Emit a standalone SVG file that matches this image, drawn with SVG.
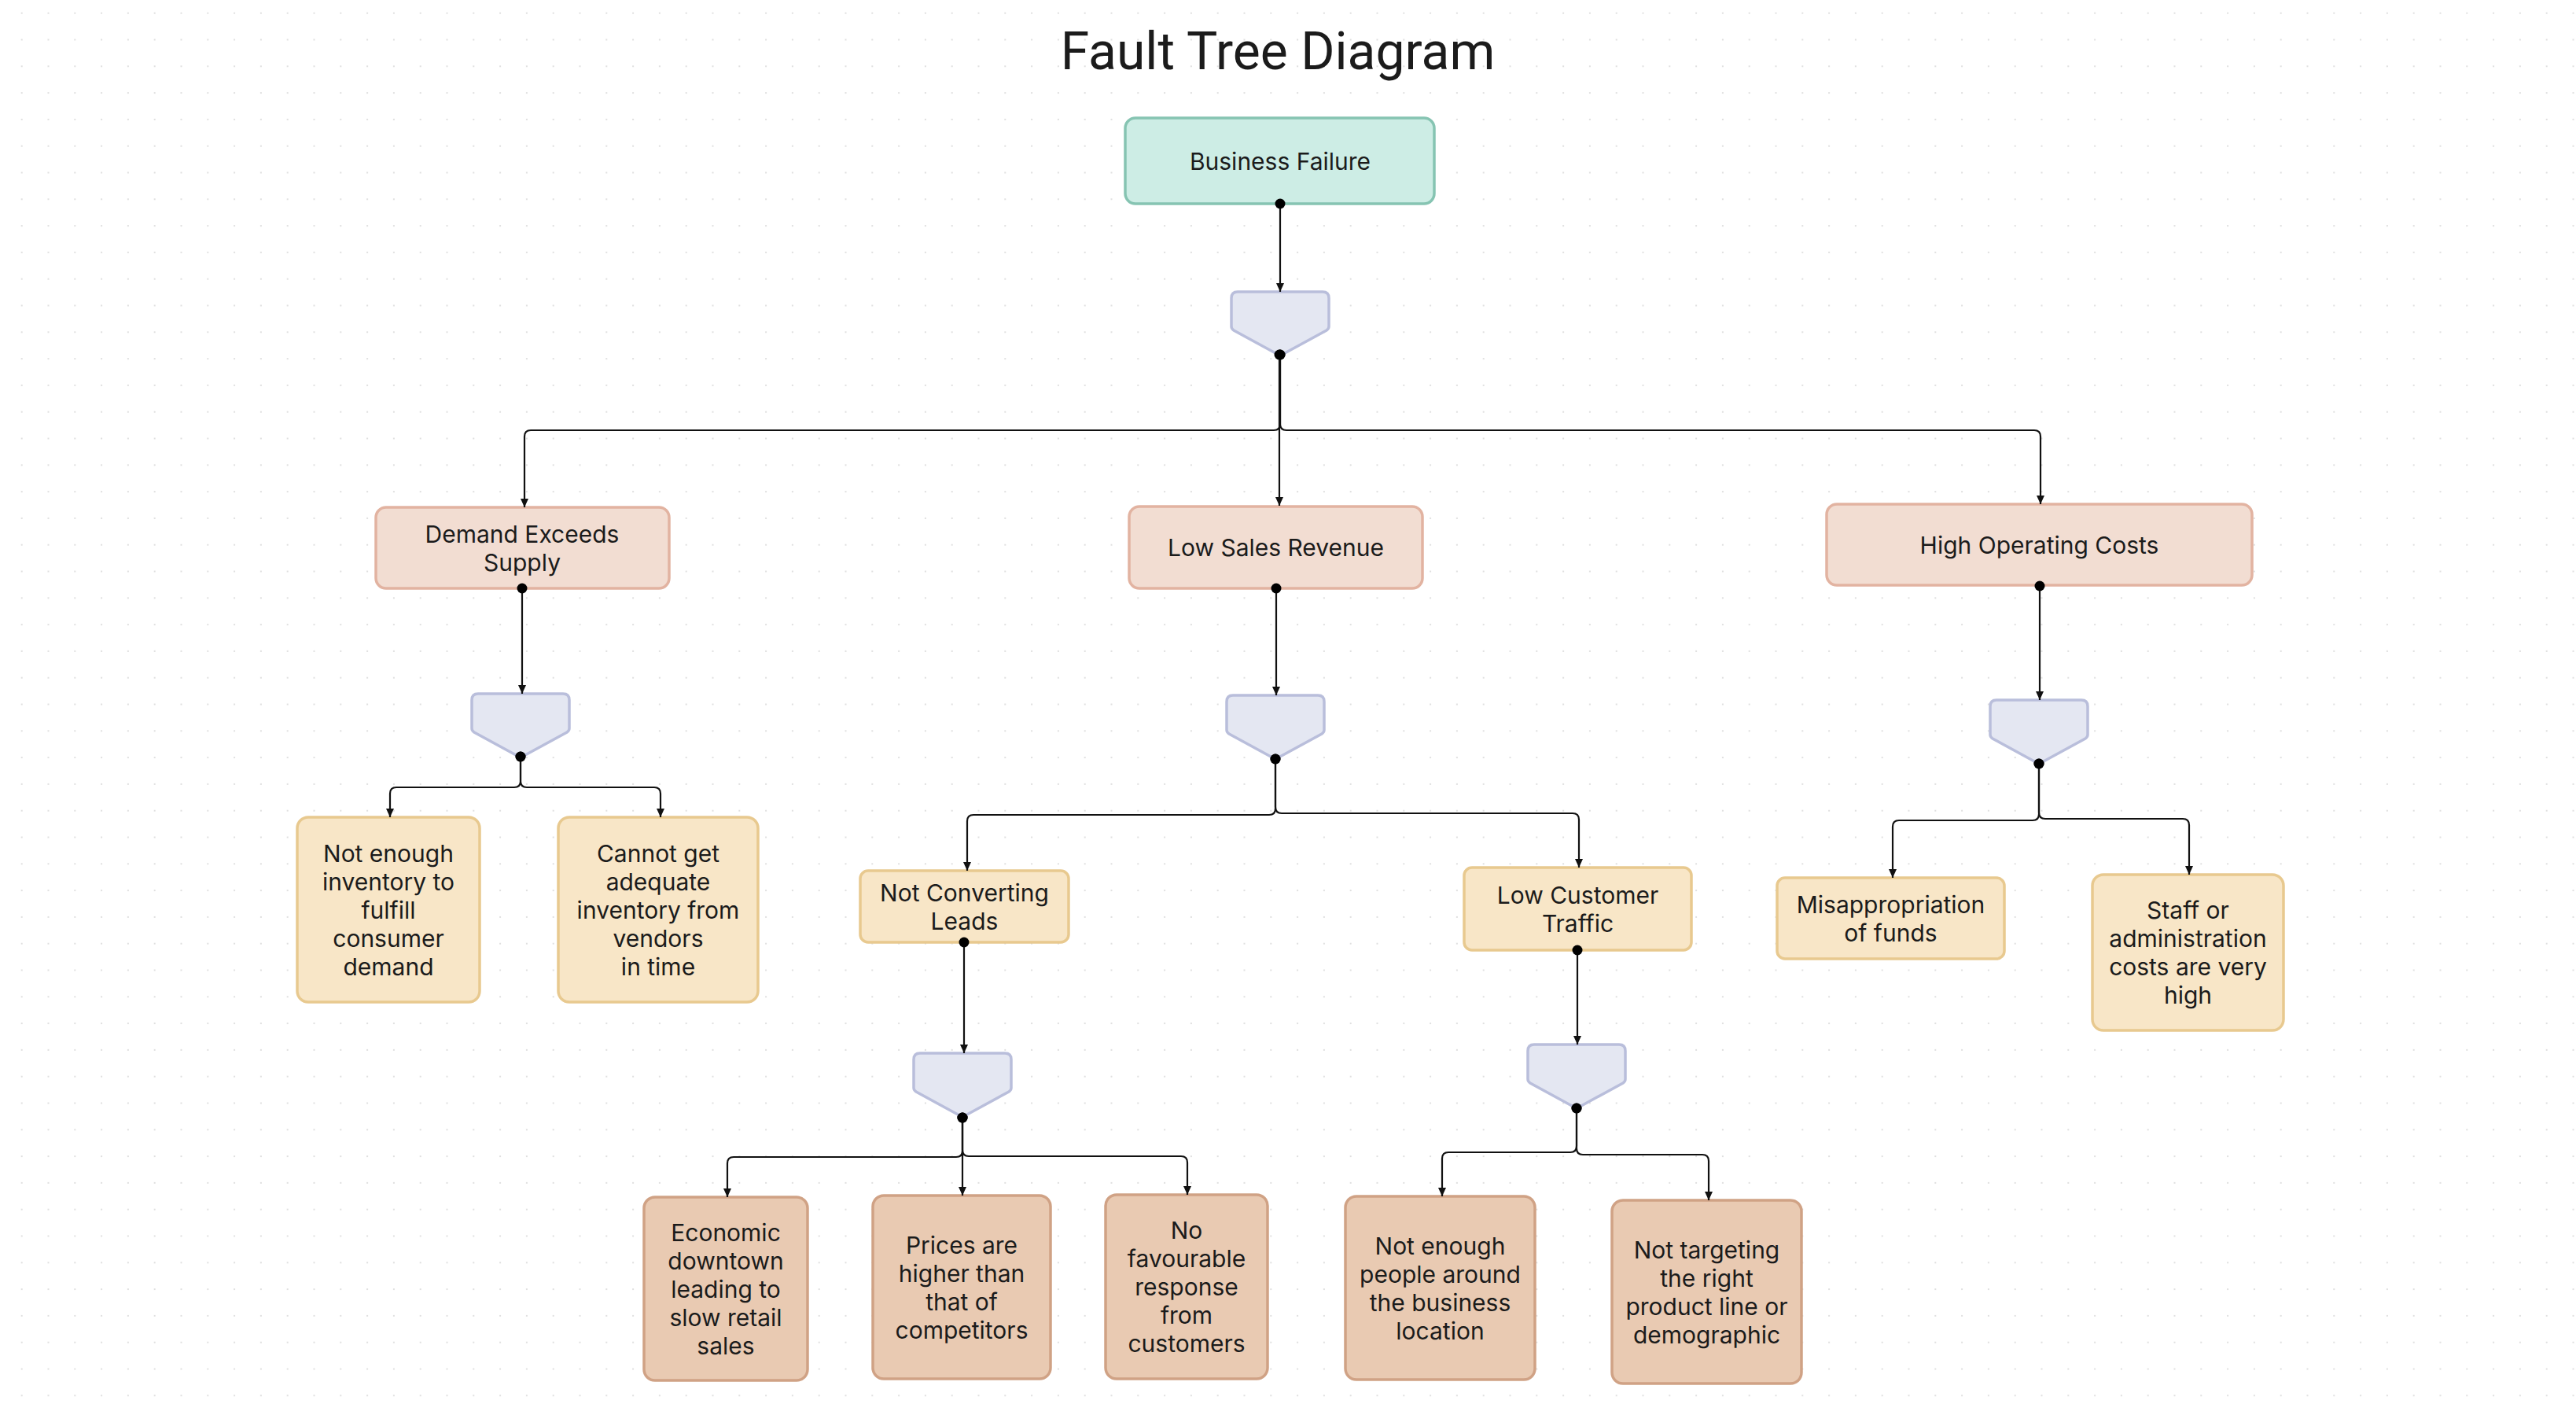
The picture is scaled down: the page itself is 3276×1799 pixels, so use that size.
<svg xmlns="http://www.w3.org/2000/svg" xmlns:xlink="http://www.w3.org/1999/xlink" width="3276" height="1799" viewBox="0 0 3276 1799">
<style>
.t{font-family:Inter,"Noto Sans","Liberation Sans",sans-serif;font-size:30px;fill:#1b1b1b;text-anchor:middle}
.title{font-family:Roboto,"Liberation Sans",sans-serif;font-size:66px;fill:#1b1b1b;text-anchor:middle}
.root{fill:#cdede5;stroke:#86c4b2;stroke-width:3.5}
.l1{fill:#f2ddd2;stroke:#e2b3a1;stroke-width:3.5}
.l2{fill:#f8e6c7;stroke:#e8c98f;stroke-width:3.5}
.l3{fill:#e9cab2;stroke:#d0a285;stroke-width:3.5}
.gate{fill:#e4e7f2;stroke:#b9bedb;stroke-width:3.5}
.c{fill:none;stroke:#111;stroke-width:2.2;marker-end:url(#arr);marker-start:url(#dot)}
</style>
<defs>
<pattern id="grid" patternUnits="userSpaceOnUse" x="10.8" y="-0.2" width="33.8" height="33.8">
<circle cx="16.9" cy="16.9" r="1" fill="#d6d6d6"/>
</pattern>
<marker id="arr" markerUnits="userSpaceOnUse" markerWidth="14" markerHeight="12" refX="11" refY="5" orient="auto">
<path d="M0,0 L11,5 L0,10 Z" fill="#111"/>
</marker>
<marker id="dot" markerUnits="userSpaceOnUse" markerWidth="16" markerHeight="16" refX="8" refY="8" orient="auto">
<circle cx="8" cy="8" r="6.5" fill="#000"/>
</marker>
<path id="gate" d="M-62 8 Q-62 0 -54 0 H54 Q62 0 62 8 V44 Q62 47 59 49 L4 79 Q0 81 -4 79 L-59 49 Q-62 47 -62 44 Z"/>
</defs>
<rect width="3276" height="1799" fill="#ffffff"/>
<rect width="3276" height="1799" fill="url(#grid)"/>
<text class="title" x="1625" y="88">Fault Tree Diagram</text>

<g id="node-business-failure"><rect class="root" x="1431" y="150" width="393" height="109" rx="13"/><text class="t" x="1628" y="215.5">Business Failure</text></g>
<g id="gate-1"><use href="#gate" class="gate" x="1628" y="371"/></g>

<g id="node-demand"><rect class="l1" x="478" y="645" width="373" height="103" rx="13"/><text class="t" x="664" y="689.5"><tspan x="664">Demand Exceeds</tspan><tspan x="664" dy="36">Supply</tspan></text></g>
<g id="node-low-sales"><rect class="l1" x="1436" y="644" width="373" height="104" rx="13"/><text class="t" x="1622.5" y="707">Low Sales Revenue</text></g>
<g id="node-high-costs"><rect class="l1" x="2323" y="641" width="541" height="103" rx="13"/><text class="t" x="2593.5" y="703.5">High Operating Costs</text></g>

<g id="gate-2"><use href="#gate" class="gate" x="662" y="882"/></g>
<g id="gate-3"><use href="#gate" class="gate" x="1622" y="884"/></g>
<g id="gate-4"><use href="#gate" class="gate" x="2593" y="890"/></g>

<g id="node-not-enough-inventory"><rect class="l2" x="378" y="1039" width="232" height="235" rx="14"/><text class="t" y="1095.5"><tspan x="494">Not enough</tspan><tspan x="494" dy="36">inventory to</tspan><tspan x="494" dy="36">fulfill</tspan><tspan x="494" dy="36">consumer</tspan><tspan x="494" dy="36">demand</tspan></text></g>
<g id="node-cannot-get"><rect class="l2" x="710" y="1039" width="254" height="235" rx="14"/><text class="t" y="1095.5"><tspan x="837">Cannot get</tspan><tspan x="837" dy="36">adequate</tspan><tspan x="837" dy="36">inventory from</tspan><tspan x="837" dy="36">vendors</tspan><tspan x="837" dy="36">in time</tspan></text></g>
<g id="node-not-converting"><rect class="l2" x="1094" y="1107" width="265" height="91" rx="10"/><text class="t" y="1145.5"><tspan x="1226.5">Not Converting</tspan><tspan x="1226.5" dy="36">Leads</tspan></text></g>
<g id="node-low-traffic"><rect class="l2" x="1862" y="1103" width="289" height="105" rx="10"/><text class="t" y="1148.5"><tspan x="2006.5">Low Customer</tspan><tspan x="2006.5" dy="36">Traffic</tspan></text></g>
<g id="node-misappropriation"><rect class="l2" x="2260" y="1116" width="289" height="103" rx="10"/><text class="t" y="1160.5"><tspan x="2404.5">Misappropriation</tspan><tspan x="2404.5" dy="36">of funds</tspan></text></g>
<g id="node-staff"><rect class="l2" x="2661" y="1112" width="243" height="198" rx="14"/><text class="t" y="1168"><tspan x="2782.5">Staff or</tspan><tspan x="2782.5" dy="36">administration</tspan><tspan x="2782.5" dy="36">costs are very</tspan><tspan x="2782.5" dy="36">high</tspan></text></g>

<g id="gate-5"><use href="#gate" class="gate" x="1224" y="1339"/></g>
<g id="gate-6"><use href="#gate" class="gate" x="2005" y="1328"/></g>

<g id="node-economic"><rect class="l3" x="819" y="1522" width="208" height="233" rx="14"/><text class="t" y="1577.5"><tspan x="923">Economic</tspan><tspan x="923" dy="36">downtown</tspan><tspan x="923" dy="36">leading to</tspan><tspan x="923" dy="36">slow retail</tspan><tspan x="923" dy="36">sales</tspan></text></g>
<g id="node-prices"><rect class="l3" x="1110" y="1520" width="226" height="233" rx="14"/><text class="t" y="1593.5"><tspan x="1223">Prices are</tspan><tspan x="1223" dy="36">higher than</tspan><tspan x="1223" dy="36">that of</tspan><tspan x="1223" dy="36">competitors</tspan></text></g>
<g id="node-no-favourable"><rect class="l3" x="1406" y="1519" width="206" height="234" rx="14"/><text class="t" y="1575"><tspan x="1509">No</tspan><tspan x="1509" dy="36">favourable</tspan><tspan x="1509" dy="36">response</tspan><tspan x="1509" dy="36">from</tspan><tspan x="1509" dy="36">customers</tspan></text></g>
<g id="node-not-enough-people"><rect class="l3" x="1711" y="1521" width="241" height="233" rx="14"/><text class="t" y="1594.5"><tspan x="1831.5">Not enough</tspan><tspan x="1831.5" dy="36">people around</tspan><tspan x="1831.5" dy="36">the business</tspan><tspan x="1831.5" dy="36">location</tspan></text></g>
<g id="node-not-targeting"><rect class="l3" x="2050" y="1526" width="241" height="233" rx="14"/><text class="t" y="1599.5"><tspan x="2170.5">Not targeting</tspan><tspan x="2170.5" dy="36">the right</tspan><tspan x="2170.5" dy="36">product line or</tspan><tspan x="2170.5" dy="36">demographic</tspan></text></g>

<g id="connectors">
<path class="c" d="M1628 259 V371"/>
<path class="c" d="M1628 451 V539 Q1628 547 1620 547 H675 Q667 547 667 555 V645"/>
<path class="c" d="M1627 451 V643"/>
<path class="c" d="M1628 451 V539 Q1628 547 1636 547 H2587 Q2595 547 2595 555 V641"/>
<path class="c" d="M664 748 V882"/>
<path class="c" d="M662 962 V993 Q662 1001 654 1001 H504 Q496 1001 496 1009 V1039"/>
<path class="c" d="M662 962 V993 Q662 1001 670 1001 H832 Q840 1001 840 1009 V1039"/>
<path class="c" d="M1623 748 V884"/>
<path class="c" d="M1622 965 V1028 Q1622 1036 1614 1036 H1238 Q1230 1036 1230 1044 V1107"/>
<path class="c" d="M1622 965 V1026 Q1622 1034 1630 1034 H2000 Q2008 1034 2008 1042 V1103"/>
<path class="c" d="M2594 745 V890"/>
<path class="c" d="M2593 971 V1035 Q2593 1043 2585 1043 H2415 Q2407 1043 2407 1051 V1116"/>
<path class="c" d="M2593 971 V1033 Q2593 1041 2601 1041 H2776 Q2784 1041 2784 1049 V1112"/>
<path class="c" d="M1226 1198 V1339"/>
<path class="c" d="M1224 1421 V1463 Q1224 1471 1216 1471 H933 Q925 1471 925 1479 V1522"/>
<path class="c" d="M1224 1421 V1520"/>
<path class="c" d="M1224 1421 V1462 Q1224 1470 1232 1470 H1502 Q1510 1470 1510 1478 V1519"/>
<path class="c" d="M2006 1208 V1328"/>
<path class="c" d="M2005 1409 V1457 Q2005 1465 1997 1465 H1842 Q1834 1465 1834 1473 V1521"/>
<path class="c" d="M2005 1409 V1460 Q2005 1468 2013 1468 H2165 Q2173 1468 2173 1476 V1526"/>
</g>
</svg>
